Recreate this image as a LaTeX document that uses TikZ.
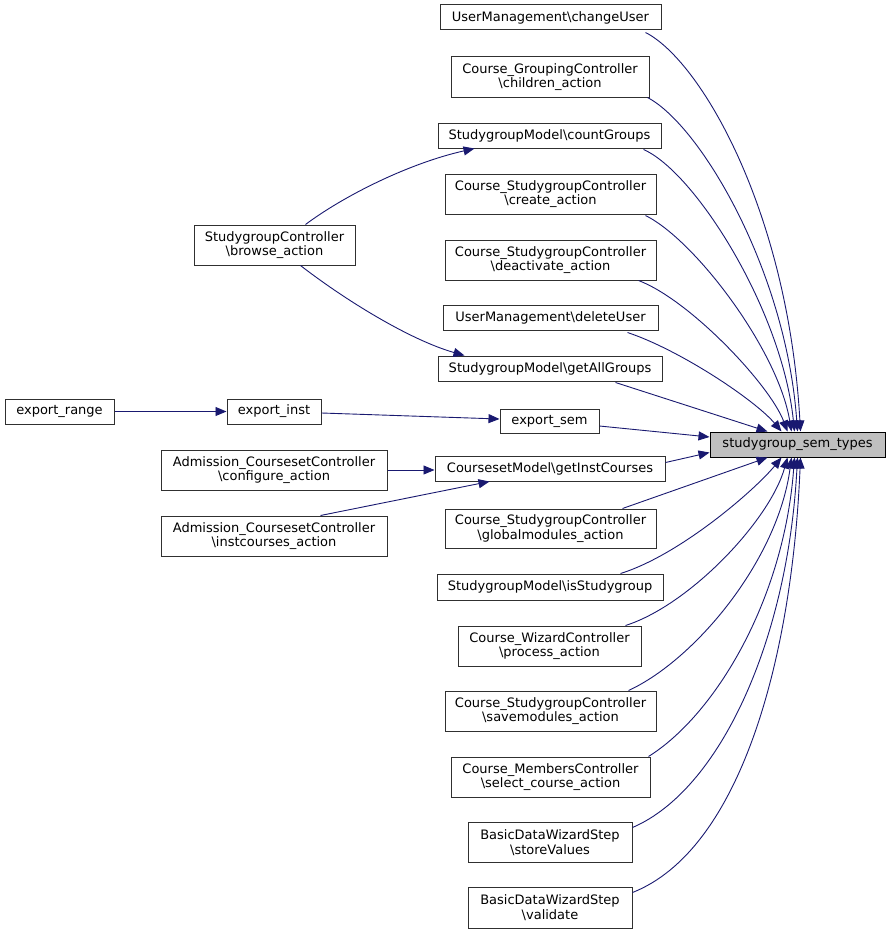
\documentclass[tikz,border=0pt]{standalone}
\usepackage{fontspec}
\setmainfont{DejaVu Sans}
\usetikzlibrary{arrows.meta,calc}
\definecolor{edgec}{HTML}{191970}
\definecolor{boxc}{HTML}{303030}
\definecolor{tfill}{HTML}{BFBFBF}
\tikzset{
  box/.style={draw=boxc, fill=white, line width=1pt, inner sep=0pt, minimum height=25pt, align=center, font=\fontsize{13}{14.5}\selectfont},
  boxtwo/.style={box, minimum height=40pt},
  edge/.style={draw=edgec, line width=0.9pt, -{Triangle[length=11pt,width=9pt]}}
}
\newcommand{\bs}{\textbackslash}
\begin{document}
\begin{tikzpicture}[x=1pt,y=-1pt]
\useasboundingbox (0,0) rectangle (891,934);
% right column
\node[box, minimum width=221pt] (n1) at (550.5,17.5) {UserManagement\bs changeUser};
\node[boxtwo, minimum width=198pt] (n2) at (550,77) {Course\_GroupingController\\\bs children\_action};
\node[box, minimum width=223pt] (n3) at (549.5,135.5) {StudygroupModel\bs countGroups};
\node[boxtwo, minimum width=211pt] (n4) at (550.5,194) {Course\_StudygroupController\\\bs create\_action};
\node[boxtwo, minimum width=211pt] (n5) at (550.5,260) {Course\_StudygroupController\\\bs deactivate\_action};
\node[box, minimum width=215pt] (n6) at (550.5,317.5) {UserManagement\bs deleteUser};
\node[box, minimum width=224pt] (n7) at (550,368.5) {StudygroupModel\bs getAllGroups};
\node[box, minimum width=99pt, minimum height=24pt] (n8) at (549.5,421) {export\_sem};
\node[box, minimum width=230pt] (n9) at (550,468.5) {CoursesetModel\bs getInstCourses};
\node[boxtwo, minimum width=211pt, minimum height=39pt] (n10) at (550.5,528.5) {Course\_StudygroupController\\\bs globalmodules\_action};
\node[box, minimum width=226pt, minimum height=26pt] (n11) at (550,587) {StudygroupModel\bs isStudygroup};
\node[boxtwo, minimum width=183pt] (n12) at (549.5,646) {Course\_WizardController\\\bs process\_action};
\node[boxtwo, minimum width=211pt] (n13) at (550.5,711) {Course\_StudygroupController\\\bs savemodules\_action};
\node[boxtwo, minimum width=199pt] (n14) at (550.5,777) {Course\_MembersController\\\bs select\_course\_action};
\node[boxtwo, minimum width=164pt] (n15) at (550,842.5) {BasicDataWizardStep\\\bs storeValues};
\node[boxtwo, minimum width=164pt, minimum height=41pt] (n16) at (550,907.5) {BasicDataWizardStep\\\bs validate};
% target
\node[box, fill=tfill, draw=black, minimum width=175pt] (t) at (797.5,444.5) {studygroup\_sem\_types};
% left
\node[boxtwo, minimum width=161pt] (br) at (274.5,245) {StudygroupController\\\bs browse\_action};
\node[box, minimum width=109pt] (er) at (59.5,411.5) {export\_range};
\node[box, minimum width=94pt] (ei) at (274,411.5) {export\_inst};
\node[boxtwo, minimum width=226pt] (cf) at (274,470) {Admission\_CoursesetController\\\bs configure\_action};
\node[boxtwo, minimum width=226pt] (ic) at (274,536) {Admission\_CoursesetController\\\bs instcourses\_action};
% left edges
\draw[edge] ($(br.north east)+(-50,0)$) .. controls (345,195) and (410,163) .. ($(n3.south west)+(37,0)$);
\draw[edge] ($(br.south east)+(-55,0)$) .. controls (345,300) and (410,340) .. ($(n7.north west)+(27,0)$);
\draw[edge] (er.east) -- (ei.west);
\draw[edge] ($(ei.east)+(0,1.5)$) -- ($(n8.west)+(0,-2)$);
\draw[edge] (cf.east) -- (cf.east -| n9.west);
\draw[edge] ($(ic.north east)+(-67,0)$) -- ($(n9.south west)+(55,0)$);
% edges to target (top)
\draw[edge] ($(n1.south east)+(-16,2)$) .. controls (700,60) and (788,210) .. ($(t.north)+(3,0)$);
\draw[edge] ($(n2.south east)+(-2,0)$) .. controls (700,125) and (786,270) .. ($(t.north)+(0,0)$);
\draw[edge] ($(n3.south east)+(-18,1)$) .. controls (695,172) and (782,310) .. ($(t.north)+(-3,0)$);
\draw[edge] ($(n4.south east)+(-11,1)$) .. controls (695,240) and (778,350) .. ($(t.north)+(-6,0)$);
\draw[edge] ($(n5.south east)+(-18,0)$) .. controls (690,300) and (770,385) .. ($(t.north)+(-10,0)$);
\draw[edge] ($(n6.south east)+(-31,2)$) .. controls (680,350) and (755,400) .. ($(t.north)+(-16,0)$);
\draw[edge] ($(n7.south east)+(-47,1)$) -- ($(t.north)+(-30,0)$);
\draw[edge] ($(n8.east)+(0,5)$) -- ($(t.west)+(0,-7.5)$);
\draw[edge] ($(n9.east)+(0,-6)$) -- ($(t.west)+(0,8)$);
% edges to target (bottom)
\draw[edge] ($(n10.north east)+(-34,0)$) -- ($(t.south)+(-30,0)$);
\draw[edge] ($(n11.north east)+(-43,0)$) .. controls (680,555) and (755,490) .. ($(t.south)+(-16,0)$);
\draw[edge] ($(n12.north east)+(-16,0)$) .. controls (690,605) and (770,520) .. ($(t.south)+(-10,0)$);
\draw[edge] ($(n13.north east)+(-28,0)$) .. controls (695,660) and (778,560) .. ($(t.south)+(-6,0)$);
\draw[edge] ($(n14.north east)+(-2,0)$) .. controls (715,715) and (784,600) .. ($(t.south)+(-3,0)$);
\draw[edge] ($(n15.east)+(0,-15)$) .. controls (720,790) and (788,640) .. ($(t.south)+(0,0)$);
\draw[edge] ($(n16.east)+(0,-15)$) .. controls (740,850) and (792,660) .. ($(t.south)+(3,0)$);
\end{tikzpicture}
\end{document}
